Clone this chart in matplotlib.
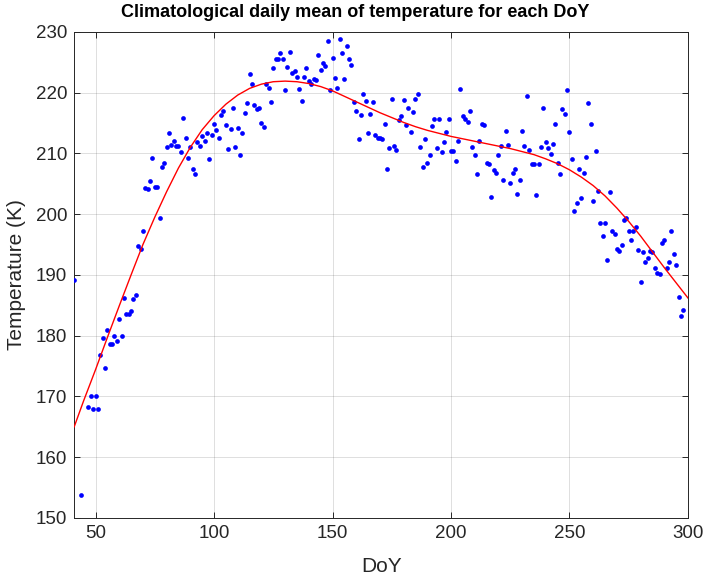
import numpy as np
import matplotlib
matplotlib.use('Agg')
import matplotlib.pyplot as plt

plt.rcParams['font.family'] = ['Liberation Sans', 'DejaVu Sans']

# --- data ---
doy = np.r_[41, 44, np.arange(47, 299)]

temp = np.array([
    189.1, 153.7,
    # 47-83
    168.2, 170.0, 168.0, 170.0, 168.0, 176.8, 179.6, 174.7, 181.0, 178.6,
    178.6, 180.0, 179.1, 182.7, 179.9, 186.2, 183.5, 183.6, 184.0, 186.0,
    186.7, 194.8, 194.3, 197.2, 204.3, 204.1, 205.5, 209.3, 204.5, 204.5,
    199.4, 207.8, 208.5, 211.1, 213.4, 211.4, 212.0,
    # 84-125
    211.2, 211.2, 210.2, 215.9, 212.6, 209.2, 211.0, 207.4, 206.6, 211.9,
    211.2, 212.8, 212.0, 213.4, 209.0, 213.1, 214.8, 213.9, 212.6, 216.3,
    217.0, 214.6, 210.7, 214.1, 217.5, 211.1, 214.2, 209.7, 213.3, 216.7,
    218.3, 223.0, 221.5, 218.0, 217.3, 217.5, 215.0, 214.3, 221.5, 220.8,
    218.4, 224.1,
    # 126-168
    225.6, 225.6, 226.6, 225.5, 220.5, 224.3, 226.7, 223.2, 223.5, 222.6,
    220.6, 218.7, 222.6, 224.0, 222.0, 221.4, 222.3, 222.1, 226.2, 223.7,
    224.8, 224.4, 228.5, 220.4, 225.7, 222.4, 220.7, 228.8, 226.6, 222.3,
    227.7, 225.5, 224.6, 218.4, 217.0, 212.4, 216.4, 219.8, 218.6, 213.3,
    216.5, 218.4, 213.1,
    # 169-209
    212.6, 212.5, 212.3, 214.8, 207.4, 210.9, 219.0, 211.3, 210.5, 215.5,
    216.1, 218.8, 214.6, 217.4, 213.5, 216.8, 219.0, 219.7, 211.0, 207.8,
    212.4, 208.4, 209.7, 214.5, 215.6, 210.9, 215.7, 210.2, 211.8, 213.6,
    215.7, 210.4, 210.4, 208.7, 212.0, 220.6, 216.2, 215.7, 215.2, 216.9,
    211.0,
    # 210-255
    209.8, 206.6, 212.0, 214.8, 214.7, 208.4, 208.2, 202.8, 207.3, 206.8,
    209.8, 211.2, 205.6, 213.7, 211.4, 205.2, 206.8, 207.4, 203.4, 205.7,
    213.7, 211.2, 219.5, 210.6, 208.3, 208.3, 203.1, 208.3, 211.1, 217.4,
    211.9, 210.9, 209.9, 211.5, 214.8, 208.5, 206.6, 217.3, 216.5, 220.4,
    213.5, 209.0, 200.6, 201.9, 207.4, 202.7,
    # 256-298
    206.7, 209.4, 218.3, 214.8, 202.1, 210.4, 203.8, 198.5, 196.4, 198.6,
    192.5, 203.7, 197.3, 196.7, 194.2, 193.9, 194.9, 199.1, 199.3, 197.2,
    195.8, 197.2, 197.9, 194.1, 188.8, 193.8, 192.1, 192.8, 193.9, 193.8,
    191.2, 190.3, 190.2, 195.2, 195.7, 191.2, 192.1, 197.3, 193.4, 191.7,
    186.4, 183.3, 184.2,
])

# red fitted curve, read every 5 days
fit_doy = [41, 45, 50, 55, 60, 65, 70, 75, 80, 85, 90, 95, 100, 105, 110,
           115, 120, 125, 130, 135, 140, 145, 150, 155, 160, 165, 170, 175,
           180, 185, 190, 195, 200, 205, 210, 215, 220, 225, 230, 235, 240,
           245, 250, 255, 260, 265, 270, 275, 280, 285, 290, 295, 300]
fit_temp = [165.0, 169.3, 174.4, 179.7, 184.9, 190.0, 195.0, 199.5, 203.7,
            207.6, 211.0, 213.9, 216.2, 218.1, 219.6, 220.7, 221.4, 221.8,
            221.9, 221.8, 221.5, 221.0, 220.3, 219.4, 218.5, 217.6, 216.7,
            215.9, 215.1, 214.4, 213.8, 213.3, 212.8, 212.4, 212.0, 211.6,
            211.2, 210.8, 210.3, 209.8, 209.1, 208.3, 207.3, 206.1, 204.7,
            203.0, 201.0, 198.8, 196.4, 193.8, 191.2, 188.7, 186.2]

xticks = [50, 100, 150, 200, 250, 300]
yticks = [150, 160, 170, 180, 190, 200, 210, 220, 230]

# --- figure ---
fig = plt.figure(figsize=(7.1, 5.8), dpi=100)
ax = fig.add_axes([0.1045, 0.107, 0.8645, 0.838])

ax.plot(doy, temp, 'o', color='b', markersize=3.4, markeredgewidth=0, zorder=3)
ax.plot(fit_doy, fit_temp, '-', color='r', linewidth=1.0, zorder=4)

ax.set_xlim(41, 300)
ax.set_ylim(150, 230)
ax.set_xticks(xticks)
ax.set_yticks(yticks)

axcol = '#262626'
ax.grid(True, color=axcol, alpha=0.15, linewidth=0.7)
ax.set_axisbelow(True)
for s in ax.spines.values():
    s.set_color(axcol)
    s.set_linewidth(0.7)
ax.tick_params(direction='in', top=True, right=True, length=4, width=0.7,
               color=axcol, labelcolor=axcol, labelsize=13.5, pad=5)

ax.set_xlabel('DoY', fontsize=15, color=axcol, labelpad=11)
ax.set_ylabel('Temperature (K)', fontsize=15, color=axcol, labelpad=7)
fig.text(0.5, 0.978, 'Climatological daily mean of temperature for each DoY',
         ha='center', va='center', fontsize=13, fontweight='bold', color='black')

fig.savefig('out.png', dpi=100)
